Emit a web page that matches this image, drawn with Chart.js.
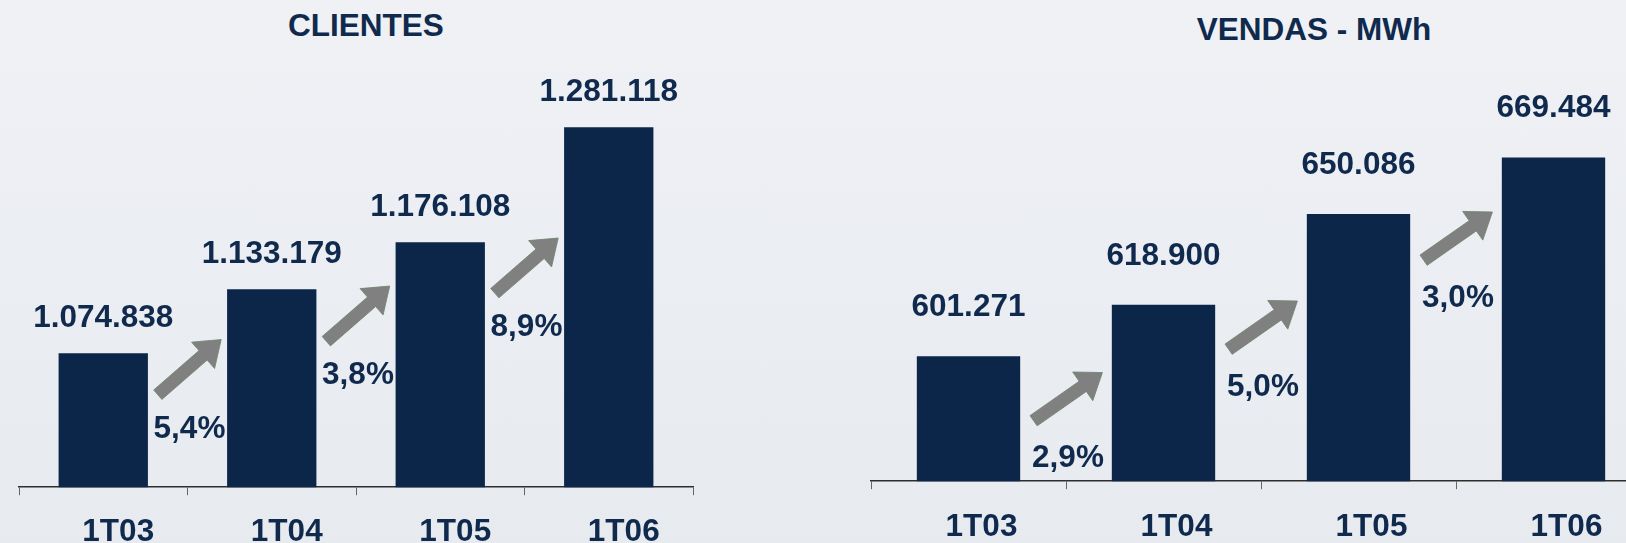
<!DOCTYPE html>
<html>
<head>
<meta charset="utf-8">
<script src="https://cdn.jsdelivr.net/npm/chart.js@4/dist/chart.umd.min.js"></script>
<style>
  html, body {
    margin: 0;
    padding: 0;
    width: 1626px;
    height: 543px;
    overflow: hidden;
    background: linear-gradient(to bottom, #eff1f5, #e7eaef);
    font-family: "Liberation Sans", Arial, sans-serif;
  }
  .box { position: absolute; top: 0; }
  .title {
    position: absolute;
    width: 400px;
    text-align: center;
    font-size: 31.5px;
    line-height: 1;
    font-weight: bold;
    color: #102a4e;
  }
</style>
</head>
<body>
<div class="title" style="left:166px; top:10px;">CLIENTES</div>
<div class="title" style="left:1114px; top:14px;">VENDAS - MWh</div>
<div class="box" style="left:0; width:712px; height:569px;"><canvas id="clientes"></canvas></div>
<div class="box" style="left:860px; width:800px; height:565px;"><canvas id="vendas"></canvas></div>

<script>
const periods = ["1T03", "1T04", "1T05", "1T06"];

const clientesValues = [1074838, 1133179, 1176108, 1281118];
const clientesGrowth = ["5,4%", "3,8%", "8,9%"];

const vendasValues = [601271, 618900, 650086, 669484];
const vendasGrowth = ["2,9%", "5,0%", "3,0%"];

const navy = "#0c2649";
const textColor = "#102a4e";
const font = { family: "'Liberation Sans', Arial, sans-serif", size: 31.5, weight: "bold" };

function fmt(v) {
  return String(v).replace(/\B(?=(\d{3})+(?!\d))/g, ".");
}

// value labels, growth arrows and percentages
const annotate = {
  id: "annotate",
  afterDatasetsDraw(chart, args, opts) {
    const ctx = chart.ctx;
    const meta = chart.getDatasetMeta(0);
    const xs = chart.scales.x;
    const ys = chart.scales.y;
    ctx.save();
    ctx.font = "bold " + font.size + "px " + font.family;
    ctx.fillStyle = textColor;
    ctx.textAlign = "center";
    ctx.textBaseline = "middle";
    meta.data.forEach((bar, i) => {
      ctx.fillText(fmt(chart.data.datasets[0].data[i]), bar.x, bar.y - opts.labelGap);
    });

    opts.growth.forEach((txt, i) => {
      const cx = (xs.getPixelForValue(i) + xs.getPixelForValue(i + 1)) / 2 + 2;
      const cy = ys.getPixelForValue(opts.arrowAt[i]);
      // arrow
      const L = 84, w = 12.5, hl = 24, hw = 35;
      ctx.save();
      ctx.translate(cx, cy);
      ctx.rotate(opts.angle * Math.PI / 180);
      ctx.beginPath();
      ctx.moveTo(-L / 2, -w / 2);
      ctx.lineTo(L / 2 - hl, -w / 2);
      ctx.lineTo(L / 2 - hl, -hw / 2);
      ctx.lineTo(L / 2, 0);
      ctx.lineTo(L / 2 - hl, hw / 2);
      ctx.lineTo(L / 2 - hl, w / 2);
      ctx.lineTo(-L / 2, w / 2);
      ctx.closePath();
      ctx.fillStyle = "#808080";
      ctx.fill();
      ctx.strokeStyle = "#71876f";
      ctx.lineWidth = 0.8;
      ctx.stroke();
      ctx.restore();
      ctx.fillStyle = textColor;
      ctx.fillText(txt, cx, cy + 62);
    });
    ctx.restore();
  }
};

function makeChart(id, values, growth, o) {
  return new Chart(document.getElementById(id), {
    type: "bar",
    data: {
      labels: periods,
      datasets: [{
        data: values,
        backgroundColor: navy,
        borderWidth: 0,
        categoryPercentage: 1,
        barPercentage: 0.53,
      }],
    },
    options: {
      responsive: true,
      maintainAspectRatio: false,
      animation: false,
      layout: { padding: o.padding },
      plugins: {
        legend: { display: false },
        tooltip: { enabled: false },
        title: { display: false },
        annotate: { growth: growth, arrowAt: o.arrowAt, angle: o.angle, labelGap: o.labelGap },
      },
      scales: {
        x: {
          offset: true,
          grid: {
            offset: true,
            drawOnChartArea: false,
            drawTicks: true,
            tickLength: 8,
            color: "#666",
            lineWidth: 1,
          },
          border: { display: true, color: "#2e2e2e", width: 1.6 },
          ticks: {
            color: textColor,
            font: font,
            padding: o.tickPad,
            labelOffset: o.labelOffset,
            maxRotation: 0,
            autoSkip: false,
          },
        },
        y: {
          display: false,
          min: o.min,
          max: o.max,
        },
      },
    },
    plugins: [annotate],
  });
}

makeChart("clientes", clientesValues, clientesGrowth, {
  padding: { top: 44, left: 19, right: 19, bottom: 0 },
  min: 952464,
  max: 1357030,
  arrowAt: [1062053, 1110911, 1154747],
  angle: -41,
  labelGap: 35,
  tickPad: 18,
  labelOffset: 15,
});

makeChart("vendas", vendasValues, vendasGrowth, {
  padding: { top: 48, left: 11, right: 9, bottom: 0 },
  min: 558316,
  max: 707113,
  arrowAt: [587354, 611924, 642508],
  angle: -35,
  labelGap: 49,
  tickPad: 19,
  labelOffset: 13,
});
</script>
</body>
</html>
